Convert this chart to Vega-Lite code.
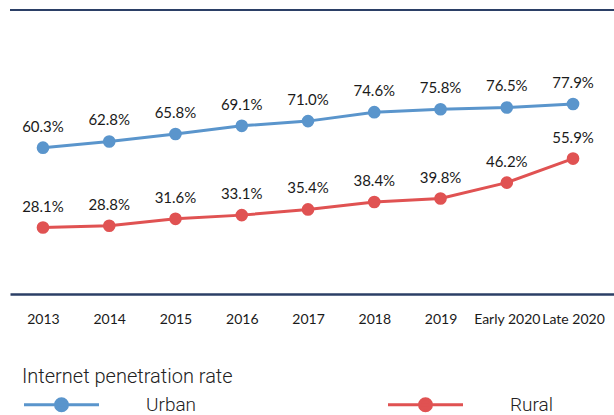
{
  "$schema": "https://vega.github.io/schema/vega-lite/v6.json",
  "autosize": {"type": "none"},
  "width": 604,
  "height": 284,
  "padding": {"left": 10, "top": 10, "right": 0, "bottom": 121},
  "data": {
    "values": [
      {"period": "2013", "area": "Urban", "rate": 60.3},
      {"period": "2014", "area": "Urban", "rate": 62.8},
      {"period": "2015", "area": "Urban", "rate": 65.8},
      {"period": "2016", "area": "Urban", "rate": 69.1},
      {"period": "2017", "area": "Urban", "rate": 71.0},
      {"period": "2018", "area": "Urban", "rate": 74.6},
      {"period": "2019", "area": "Urban", "rate": 75.8},
      {"period": "Early 2020", "area": "Urban", "rate": 76.5},
      {"period": "Late 2020", "area": "Urban", "rate": 77.9},
      {"period": "2013", "area": "Rural", "rate": 28.1},
      {"period": "2014", "area": "Rural", "rate": 28.8},
      {"period": "2015", "area": "Rural", "rate": 31.6},
      {"period": "2016", "area": "Rural", "rate": 33.1},
      {"period": "2017", "area": "Rural", "rate": 35.4},
      {"period": "2018", "area": "Rural", "rate": 38.4},
      {"period": "2019", "area": "Rural", "rate": 39.8},
      {"period": "Early 2020", "area": "Rural", "rate": 46.2},
      {"period": "Late 2020", "area": "Rural", "rate": 55.9}
    ]
  },
  "encoding": {
    "y": {
      "field": "rate",
      "type": "quantitative",
      "scale": {"domain": [1.3, 115.8], "nice": false, "zero": false},
      "axis": null
    }
  },
  "layer": [
    {
      "encoding": {
        "x": {
          "field": "period",
          "type": "ordinal",
          "sort": null,
          "scale": {"type": "point", "padding": 0.558, "align": 0.446},
          "axis": {
            "title": null,
            "labelAngle": 0,
            "ticks": false,
            "grid": false,
            "domainColor": "#2b3f66",
            "domainWidth": 2.5,
            "labelPadding": 18,
            "labelFont": "Lato",
            "labelFontSize": 14,
            "labelColor": "#1a1a1a",
            "labelOverlap": false
          }
        },
        "color": {
          "field": "area",
          "type": "nominal",
          "sort": ["Urban", "Rural"],
          "scale": {"domain": ["Urban", "Rural"], "range": ["#5a95cc", "#e05252"]},
          "legend": {
            "title": "Internet penetration rate",
            "orient": "none",
            "legendX": 12,
            "legendY": 357,
            "direction": "horizontal",
            "columns": 2,
            "padding": 0,
            "titleFont": "Roboto",
            "titleFontWeight": 300,
            "titleFontSize": 20,
            "titleColor": "#222222",
            "titlePadding": 8,
            "titleLimit": 400,
            "labelFont": "Roboto",
            "labelFontWeight": 300,
            "labelFontSize": 19,
            "labelColor": "#222222",
            "labelOffset": 105,
            "columnPadding": 185,
            "symbolType": "M-1,0H9M3.2,0A0.8,0.8 0 1,0 4.8,0A0.8,0.8 0 1,0 3.2,0Z",
            "symbolSize": 225,
            "symbolStrokeWidth": 3,
            "encode": {
              "symbols": {
                "update": {
                  "fill": {"scale": "color", "field": "value"},
                  "stroke": {"scale": "color", "field": "value"},
                  "strokeWidth": {"value": 3},
                  "opacity": {"value": 1}
                }
              }
            }
          }
        }
      },
      "layer": [
        {"mark": {"type": "line", "strokeWidth": 3}},
        {"mark": {"type": "point", "filled": true, "opacity": 1, "size": 160}},
        {
          "transform": [
            {"calculate": "format(datum.rate, '.1f') + '%'", "as": "label"}
          ],
          "mark": {"type": "text", "dy": -21, "font": "Lato", "fontSize": 15, "baseline": "middle"},
          "encoding": {
            "text": {"field": "label", "type": "nominal"},
            "color": {"value": "#1a1a1a"}
          }
        },
        {
          "data": {"values": [{"heading": "2013 to 2020"}]},
          "mark": {"type": "text", "dx": -12, "font": "Lato", "fontSize": 20, "fontWeight": "bold", "baseline": "alphabetic", "align": "center"},
          "encoding": {
            "x": {"datum": "2016"},
            "y": {"datum": 118.6},
            "text": {"field": "heading", "type": "nominal"},
            "color": {"value": "#111111"}
          }
        }
      ]
    },
    {
      "mark": {"type": "rule", "color": "#2b3f66", "strokeWidth": 2},
      "encoding": {"y": {"datum": 115.8}}
    }
  ],
  "config": {"view": {"stroke": null}}
}
